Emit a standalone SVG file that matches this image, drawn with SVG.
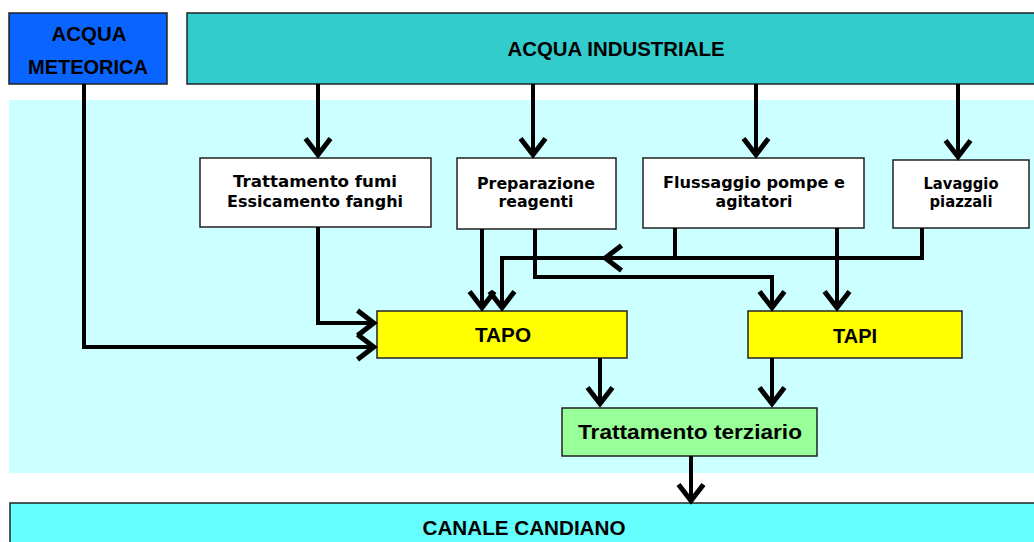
<svg xmlns="http://www.w3.org/2000/svg" width="1034" height="542" viewBox="0 0 1034 542">
<style>
.box{stroke:#222;stroke-width:1.5}
.t{font-family:"DejaVu Sans","Liberation Sans",sans-serif;font-weight:bold;font-size:16px;fill:#000;text-anchor:middle}
.h{font-family:"Liberation Sans",Arial,sans-serif;font-weight:bold;font-size:21px;fill:#000;text-anchor:middle}
.c{fill:none;stroke:#000;stroke-width:4;stroke-linejoin:miter}
</style>
<defs>
<marker id="ah" markerUnits="userSpaceOnUse" markerWidth="30" markerHeight="30" viewBox="-16 -12 20 24" refX="0" refY="0" orient="auto" overflow="visible">
<path d="M-14,-10 L-1,0 L-14,10" fill="none" stroke="#000" stroke-width="4"/>
</marker>
</defs>
<rect x="9" y="100" width="1025" height="373" fill="#CCFFFF"/>
<g id="meteorica">
<rect class="box" x="9" y="13" width="158" height="71" fill="#0A64FF"/>
<text class="h" x="89" y="41" textLength="75" lengthAdjust="spacingAndGlyphs">ACQUA</text>
<text class="h" x="88" y="74" textLength="120" lengthAdjust="spacingAndGlyphs">METEORICA</text>
</g>
<g id="industriale">
<rect class="box" x="187" y="13" width="850" height="71" fill="#33CCCC"/>
<text class="h" x="616" y="56" font-size="20" textLength="217" lengthAdjust="spacingAndGlyphs">ACQUA INDUSTRIALE</text>
</g>
<g id="fumi">
<rect class="box" x="200" y="158" width="231" height="69" fill="#fff"/>
<text class="t" x="315" y="187" textLength="164" lengthAdjust="spacingAndGlyphs">Trattamento fumi</text>
<text class="t" x="315" y="207" textLength="176" lengthAdjust="spacingAndGlyphs">Essicamento fanghi</text>
</g>
<g id="preparazione">
<rect class="box" x="457" y="158" width="159" height="71" fill="#fff"/>
<text class="t" x="536" y="189" textLength="118" lengthAdjust="spacingAndGlyphs">Preparazione</text>
<text class="t" x="536" y="207" textLength="75" lengthAdjust="spacingAndGlyphs">reagenti</text>
</g>
<g id="flussaggio">
<rect class="box" x="643" y="158" width="221" height="70" fill="#fff"/>
<text class="t" x="754" y="188" textLength="182" lengthAdjust="spacingAndGlyphs">Flussaggio  pompe e</text>
<text class="t" x="754" y="207" textLength="77" lengthAdjust="spacingAndGlyphs">agitatori</text>
</g>
<g id="lavaggio">
<rect class="box" x="893" y="160" width="136" height="68" fill="#fff"/>
<text class="t" x="961" y="189" textLength="75" lengthAdjust="spacingAndGlyphs">Lavaggio</text>
<text class="t" x="961" y="207" textLength="63" lengthAdjust="spacingAndGlyphs">piazzali</text>
</g>
<g id="tapo">
<rect class="box" x="377" y="311" width="250" height="47" fill="#FFFF00"/>
<text class="h" x="503" y="342" font-size="20" textLength="56" lengthAdjust="spacingAndGlyphs">TAPO</text>
</g>
<g id="tapi">
<rect class="box" x="748" y="311" width="214" height="47" fill="#FFFF00"/>
<text class="h" x="855" y="343" font-size="20" textLength="44" lengthAdjust="spacingAndGlyphs">TAPI</text>
</g>
<g id="terziario">
<rect class="box" x="562" y="408" width="255" height="48" fill="#99FF99"/>
<text class="h" x="690" y="439" font-size="20" textLength="224" lengthAdjust="spacingAndGlyphs">Trattamento terziario</text>
</g>
<g id="candiano">
<rect class="box" x="10" y="503" width="1030" height="45" fill="#66FFFF"/>
<text class="h" x="524" y="535" font-size="20" textLength="203" lengthAdjust="spacingAndGlyphs">CANALE CANDIANO</text>
</g>
<g id="connectors">
<path class="c" d="M318,84 V156" marker-end="url(#ah)"/>
<path class="c" d="M533,84 V156" marker-end="url(#ah)"/>
<path class="c" d="M756,84 V156" marker-end="url(#ah)"/>
<path class="c" d="M958,84 V158" marker-end="url(#ah)"/>
<path class="c" d="M84,84 V347 H375" marker-end="url(#ah)"/>
<path class="c" d="M318,227 V323 H375" marker-end="url(#ah)"/>
<path class="c" d="M482,229 V309" marker-end="url(#ah)"/>
<path class="c" d="M535,229 V277 H772 V309" marker-end="url(#ah)"/>
<path class="c" d="M675,228 V258"/>
<path class="c" d="M922,228 V258 H502 V309" marker-end="url(#ah)"/>
<path class="c" d="M640,258 H604" marker-end="url(#ah)"/>
<path class="c" d="M837,228 V309" marker-end="url(#ah)"/>
<path class="c" d="M600,358 V405" marker-end="url(#ah)"/>
<path class="c" d="M772,358 V405" marker-end="url(#ah)"/>
<path class="c" d="M691,456 V502" marker-end="url(#ah)"/>
</g>
</svg>
